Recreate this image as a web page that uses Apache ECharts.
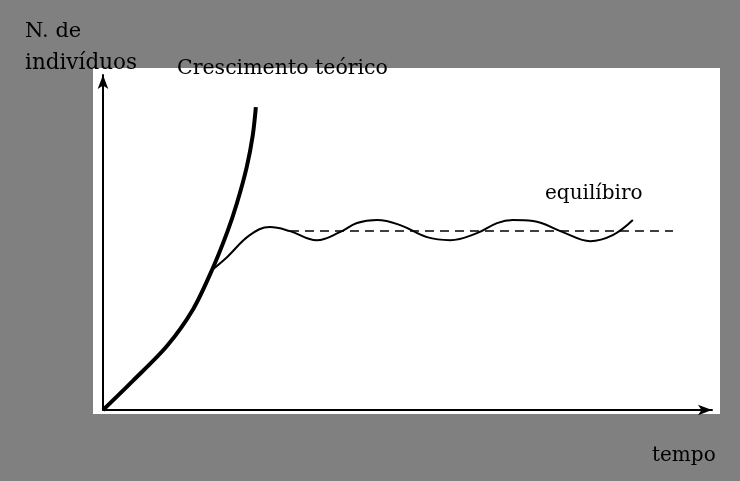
<!DOCTYPE html>
<html><head><meta charset="utf-8">
<script src="https://cdn.jsdelivr.net/npm/echarts@6/dist/echarts.min.js"></script>
<style>html,body{margin:0;padding:0;background:#808080;}#c{width:740px;height:481px;}</style>
</head><body><div id="c"></div>
<script>
// tempo (0-100) and N (0-100)
const expT = [0, 4.9, 10.5, 14.8, 17.9, 20.4, 22.0, 23.6, 24.6, 25.1];
const expN = [0, 8.7, 19.1, 30.1, 41.8, 53.1, 61.8, 72.5, 82.1, 90.4];
const logT = [17.9, 20.4, 24.1, 27.4, 30.7, 35.1, 38.9, 41.7, 45.0, 48.8, 53.2, 57.0, 61.4, 64.7, 67.3, 70.6, 75.5, 80.0, 83.7, 87.0];
const logN = [41.8, 45.7, 52.2, 54.6, 53.4, 50.7, 53.1, 55.8, 56.7, 55.2, 51.6, 50.7, 52.8, 55.8, 56.7, 56.4, 53.1, 50.4, 52.2, 56.7];
const eqT = [30.7, 93.6];
const eqN = [53.4, 53.4];
const labels = {y1: 'N. de', y2: 'indivíduos', exp: 'Crescimento teórico', eq: 'equilíbiro', x: 'tempo'};

const zip = (a, b) => a.map((v, i) => [v, b[i]]);
const chart = echarts.init(document.getElementById('c'));
const font = '"DejaVu Serif", "Liberation Serif", serif';
chart.setOption({
  backgroundColor: '#808080',
  animation: false,
  grid: {left: 103, right: 28, top: 75, bottom: 71},
  xAxis: {type: 'value', min: 0, max: 100, axisLabel: {show: false}, axisTick: {show: false}, splitLine: {show: false},
    axisLine: {onZero: false, lineStyle: {color: '#000', width: 2}, symbol: ['none', 'arrow'], symbolSize: [8, 14]}},
  yAxis: {type: 'value', min: 0, max: 100, axisLabel: {show: false}, axisTick: {show: false}, splitLine: {show: false},
    axisLine: {show: true, onZero: false, lineStyle: {color: '#000', width: 2}, symbol: ['none', 'arrow'], symbolSize: [8, 14]}},
  graphic: [
    {type: 'rect', z: -10, silent: true, shape: {x: 93, y: 68, width: 627, height: 346}, style: {fill: '#fff'}},
    {type: 'text', left: 25, top: 21, style: {text: labels.y1, font: '21px ' + font, fill: '#000'}},
    {type: 'text', left: 25, top: 52, style: {text: labels.y2, font: '21.5px ' + font, fill: '#000'}},
    {type: 'text', left: 177, top: 58, style: {text: labels.exp, font: '20.5px ' + font, fill: '#000'}},
    {type: 'text', left: 545, top: 184, style: {text: labels.eq, font: '20px ' + font, fill: '#000'}},
    {type: 'text', left: 652, top: 446, style: {text: labels.x, font: '20px ' + font, fill: '#000'}}
  ],
  series: [
    {type: 'line', data: zip(expT, expN), smooth: 0.3, showSymbol: false, lineStyle: {color: '#000', width: 4}, z: 3},
    {type: 'line', data: zip(logT, logN), smooth: 0.4, showSymbol: false, lineStyle: {color: '#000', width: 2}, z: 2},
    {type: 'line', data: zip(eqT, eqN), showSymbol: false, lineStyle: {color: '#000', width: 1.5, type: [9, 6]}, z: 1}
  ]
});
</script></body></html>
